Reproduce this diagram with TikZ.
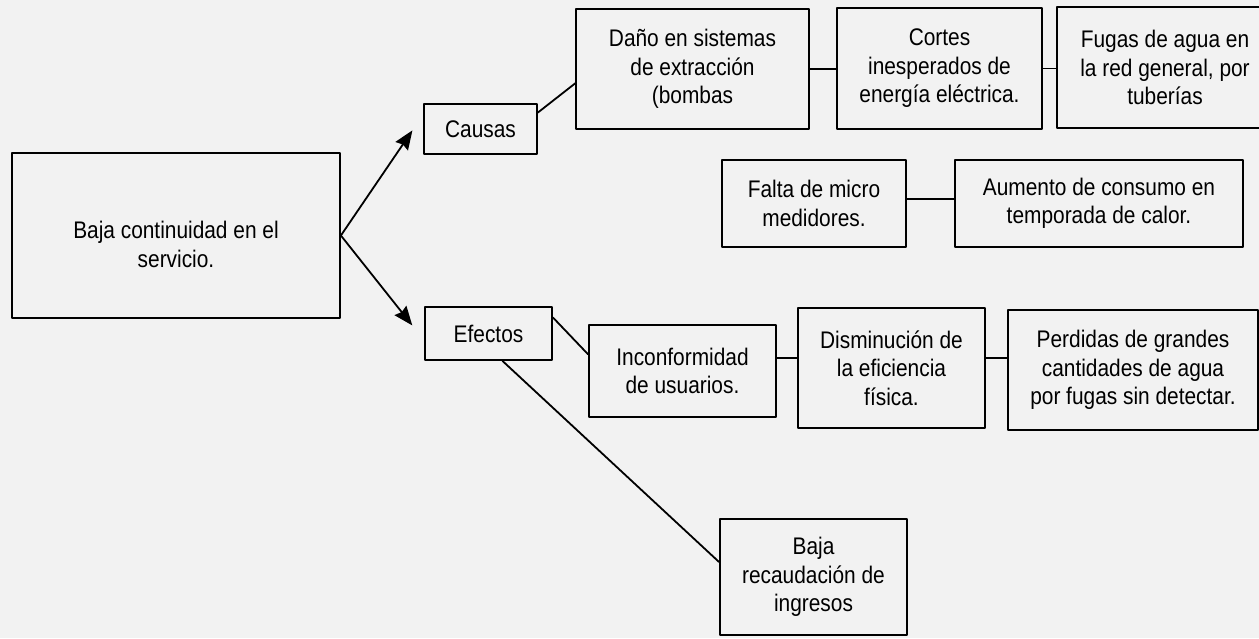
\documentclass[tikz,border=0pt]{standalone}
\usepackage{fontspec}
\setmainfont{Liberation Sans}[FakeStretch=0.87]
\usetikzlibrary{arrows.meta}
\begin{document}
\begin{tikzpicture}[x=1pt,y=-1pt,line join=round,line cap=round,>={Stealth[length=19pt,width=15pt,inset=2pt]},line width=1.8pt]
	\tikzset{every node/.style={font=\fontsize{24}{28.5}\selectfont},
		caja/.style={draw,line width=1.8pt,align=center,inner sep=0pt}}
	\fill[black!5] (0,0) rectangle (1259,638);
	\useasboundingbox (0,0) rectangle (1259,638);
	% problema
	\node[caja,minimum width=328pt,minimum height=165pt] (problema) at (176,235.5) {\raisebox{-12pt}[\height][\depth]{\begin{tabular}{@{}c@{}}Baja continuidad en el\\servicio.\end{tabular}}};
	\node[caja,minimum width=113pt,minimum height=50pt] (causas) at (480.5,129) {Causas};
	\node[caja,minimum width=127pt,minimum height=53pt] (efectos) at (488.5,333.5) {Efectos};
	% causas
	\node[caja,minimum width=233pt,minimum height=120pt] (dano) at (692.5,69) {Daño en sistemas\\de extracción\\(bombas};
	\node[caja,minimum width=205pt,minimum height=121pt] (cortes) at (939.5,68.5) {Cortes\\inesperados de\\energía eléctrica.};
	\node[caja,minimum width=216pt,minimum height=121pt] (fugas) at (1165,67.5) {Fugas de agua en\\la red general, por\\tuberías};
	\node[caja,minimum width=184pt,minimum height=87pt] (falta) at (814,203.5) {Falta de micro\\medidores.};
	\node[caja,minimum width=288pt,minimum height=87pt] (aumento) at (1099,203.5) {Aumento de consumo en\\temporada de calor.};
	% efectos
	\node[caja,minimum width=187pt,minimum height=92pt] (inconf) at (682.5,371) {Inconformidad\\de usuarios.};
	\node[caja,minimum width=187pt,minimum height=120pt] (dismin) at (891.5,368) {Disminución de\\la eficiencia\\física.};
	\node[caja,minimum width=250pt,minimum height=120pt] (perdidas) at (1133,370) {Perdidas de grandes\\cantidades de agua\\por fugas sin detectar.};
	\node[caja,minimum width=187pt,minimum height=116pt] (recaudacion) at (813.5,577) {Baja\\recaudación de\\ingresos};
	% conectores
	\draw[->,shorten >=19pt] (problema.east) -- (causas.166);
	\draw[->,shorten >=19pt] (problema.east) -- (efectos.186);
	\draw (causas.16) -- (dano.187);
	\draw (efectos.14) -- (inconf.170);
	\draw (efectos.-63) -- (recaudacion.171);
	\foreach \a/\b in {dano.east/cortes.west,cortes.east/fugas.west,falta.3/aumento.west,inconf.8/dismin.west,dismin.6/perdidas.west}
	\draw (\a) -- (\a -| \b);
\end{tikzpicture}
\end{document}
